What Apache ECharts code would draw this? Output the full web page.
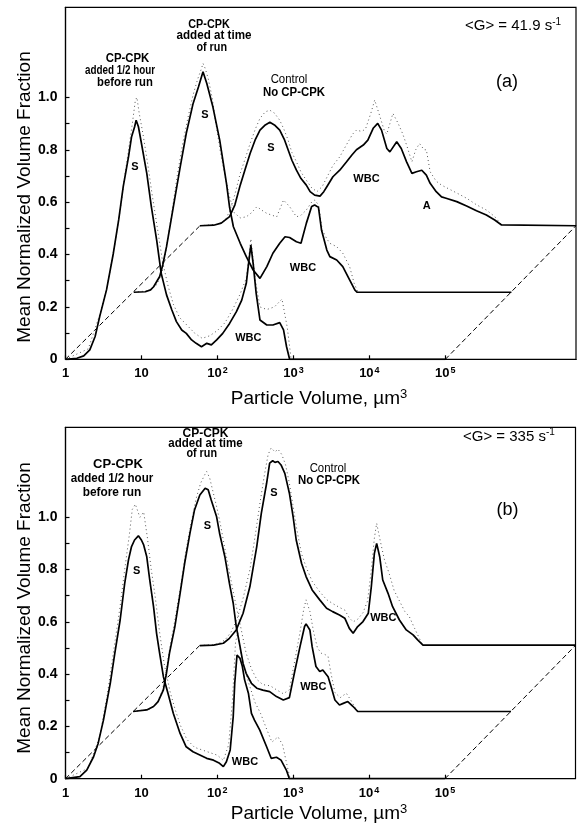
<!DOCTYPE html>
<html><head><meta charset="utf-8">
<script src="https://cdn.jsdelivr.net/npm/echarts@6/dist/echarts.min.js"></script>
<style>html,body{margin:0;padding:0;background:#fff}#c{width:579px;height:831px}</style>
</head><body><div id="c"></div>
<script>
// x values: log10(particle volume, µm³) as displayed; y: mean normalized volume fraction
const xTickExps = [0, 1, 2, 3, 4, 5];
const yTickVals = [0, 0.1, 0.2, 0.3, 0.4, 0.5, 0.6, 0.7, 0.8, 0.9, 1.0];
const yLabelVals = [0, 0.2, 0.4, 0.6, 0.8, 1.0];

// ---- Panel (a) <G> = 41.9 s-1 ----
const a1Solid = [[0,0],[0.15,0.004],[0.24,0.013],[0.32,0.036],[0.39,0.087],[0.45,0.163],[0.54,0.265],[0.63,0.405],[0.70,0.532],[0.76,0.659],[0.83,0.774],[0.87,0.85],[0.91,0.888],[0.93,0.913],[0.96,0.888],[1.00,0.824],[1.07,0.71],[1.13,0.583],[1.20,0.455],[1.26,0.328],[1.33,0.246],[1.40,0.188],[1.46,0.144],[1.53,0.112],[1.59,0.099],[1.66,0.074],[1.72,0.061],[1.79,0.048],[1.86,0.061],[1.92,0.055],[1.99,0.074],[2.07,0.099],[2.16,0.137],[2.25,0.182],[2.32,0.226],[2.38,0.29],[2.41,0.366],[2.44,0.436],[2.47,0.366],[2.51,0.252],[2.56,0.15],[2.65,0.131],[2.73,0.131],[2.82,0.14],[2.87,0.112],[2.91,0.048],[2.95,0],[5.0,0]];
const a1Dot = [[0,0],[0.3,0.04],[0.45,0.17],[0.55,0.28],[0.65,0.44],[0.72,0.57],[0.78,0.70],[0.84,0.82],[0.88,0.90],[0.92,0.99],[0.94,1.0],[0.97,0.94],[1.02,0.86],[1.08,0.75],[1.14,0.63],[1.21,0.50],[1.28,0.37],[1.35,0.28],[1.42,0.21],[1.5,0.16],[1.6,0.13],[1.7,0.10],[1.8,0.08],[1.9,0.09],[2.0,0.11],[2.1,0.14],[2.2,0.19],[2.3,0.25],[2.38,0.31],[2.44,0.46],[2.5,0.30],[2.56,0.20],[2.65,0.19],[2.75,0.2],[2.85,0.23],[2.92,0.12],[2.97,0]];
const a2Solid = [[0.90,0.256],[1.05,0.258],[1.12,0.265],[1.16,0.277],[1.24,0.316],[1.28,0.36],[1.33,0.43],[1.42,0.583],[1.51,0.735],[1.59,0.863],[1.68,0.977],[1.75,1.04],[1.81,1.098],[1.86,1.053],[1.94,0.964],[2.03,0.837],[2.12,0.67],[2.16,0.58],[2.21,0.506],[2.30,0.443],[2.38,0.392],[2.47,0.341],[2.56,0.309],[2.65,0.354],[2.73,0.405],[2.82,0.443],[2.89,0.468],[2.95,0.465],[3.04,0.449],[3.10,0.443],[3.17,0.519],[3.24,0.583],[3.28,0.589],[3.33,0.58],[3.37,0.494],[3.44,0.417],[3.48,0.392],[3.57,0.379],[3.65,0.354],[3.74,0.303],[3.81,0.264],[3.84,0.256],[5.87,0.256]];
const a2Dot = [[0.90,0.256],[1.1,0.262],[1.2,0.285],[1.27,0.33],[1.33,0.43],[1.40,0.56],[1.47,0.70],[1.54,0.82],[1.61,0.92],[1.68,1.01],[1.74,1.07],[1.79,1.11],[1.81,1.13],[1.84,1.11],[1.88,1.07],[1.93,1.0],[1.98,0.9],[2.04,0.79],[2.1,0.70],[2.16,0.62],[2.22,0.56],[2.3,0.54],[2.38,0.544],[2.45,0.56],[2.52,0.583],[2.58,0.57],[2.65,0.557],[2.72,0.55],[2.78,0.544],[2.87,0.608],[2.95,0.583],[3.04,0.544],[3.10,0.55],[3.17,0.57],[3.24,0.60],[3.28,0.608],[3.33,0.59],[3.38,0.494],[3.44,0.46],[3.48,0.443],[3.57,0.43],[3.65,0.405],[3.74,0.354],[3.80,0.29],[3.85,0.256]];
const a3Solid = [[1.77,0.51],[1.95,0.512],[2.05,0.52],[2.16,0.545],[2.23,0.59],[2.30,0.665],[2.37,0.73],[2.43,0.786],[2.50,0.84],[2.56,0.875],[2.63,0.895],[2.69,0.905],[2.75,0.895],[2.82,0.875],[2.88,0.84],[2.93,0.80],[2.98,0.76],[3.04,0.722],[3.10,0.69],[3.17,0.665],[3.22,0.64],[3.28,0.627],[3.35,0.623],[3.40,0.64],[3.44,0.659],[3.52,0.697],[3.61,0.722],[3.70,0.754],[3.77,0.78],[3.83,0.80],[3.92,0.818],[3.98,0.837],[4.05,0.882],[4.11,0.901],[4.16,0.875],[4.23,0.805],[4.27,0.792],[4.36,0.831],[4.42,0.805],[4.49,0.754],[4.56,0.71],[4.62,0.716],[4.69,0.722],[4.75,0.703],[4.77,0.70],[4.80,0.672],[4.88,0.64],[4.95,0.62],[5.01,0.615],[5.15,0.602],[5.28,0.585],[5.41,0.567],[5.54,0.551],[5.65,0.532],[5.74,0.513],[6.72,0.51]];
const a3Dot = [[1.77,0.51],[2.0,0.515],[2.1,0.53],[2.16,0.565],[2.23,0.63],[2.30,0.71],[2.37,0.77],[2.43,0.824],[2.50,0.88],[2.56,0.92],[2.63,0.945],[2.69,0.951],[2.75,0.94],[2.82,0.913],[2.88,0.875],[2.93,0.837],[2.98,0.79],[3.04,0.754],[3.10,0.715],[3.17,0.684],[3.24,0.655],[3.31,0.64],[3.38,0.66],[3.45,0.70],[3.52,0.74],[3.61,0.773],[3.70,0.82],[3.78,0.86],[3.83,0.875],[3.90,0.87],[3.95,0.88],[4.02,0.94],[4.07,0.99],[4.14,0.926],[4.20,0.87],[4.23,0.86],[4.27,0.90],[4.31,0.939],[4.38,0.90],[4.44,0.86],[4.49,0.818],[4.56,0.754],[4.61,0.80],[4.66,0.824],[4.72,0.80],[4.75,0.80],[4.80,0.716],[4.88,0.68],[4.95,0.665],[5.05,0.65],[5.15,0.635],[5.28,0.615],[5.41,0.59],[5.54,0.57],[5.65,0.545],[5.74,0.513]];

// ---- Panel (b) <G> = 335 s-1 ----
const b1Solid = [[0,0],[0.19,0.008],[0.28,0.033],[0.37,0.084],[0.43,0.135],[0.50,0.224],[0.59,0.365],[0.65,0.48],[0.72,0.607],[0.78,0.747],[0.83,0.837],[0.87,0.888],[0.91,0.913],[0.96,0.929],[1.00,0.913],[1.03,0.894],[1.07,0.85],[1.11,0.76],[1.16,0.658],[1.20,0.556],[1.24,0.48],[1.29,0.39],[1.35,0.327],[1.42,0.25],[1.51,0.173],[1.59,0.122],[1.68,0.103],[1.77,0.091],[1.86,0.078],[1.95,0.071],[2.03,0.059],[2.08,0.046],[2.12,0.065],[2.17,0.11],[2.21,0.237],[2.23,0.365],[2.26,0.473],[2.30,0.46],[2.33,0.43],[2.36,0.378],[2.41,0.327],[2.45,0.25],[2.49,0.224],[2.56,0.186],[2.65,0.122],[2.71,0.078],[2.78,0.082],[2.84,0.071],[2.91,0.033],[2.95,0],[5.0,0]];
const b1Dot = [[0,0],[0.3,0.04],[0.45,0.16],[0.55,0.32],[0.65,0.52],[0.72,0.66],[0.78,0.80],[0.84,0.93],[0.88,1.03],[0.92,1.05],[0.98,1.0],[1.03,1.02],[1.08,0.92],[1.13,0.80],[1.18,0.70],[1.24,0.56],[1.3,0.44],[1.38,0.33],[1.45,0.26],[1.52,0.2],[1.6,0.15],[1.7,0.12],[1.8,0.11],[1.9,0.10],[2.0,0.09],[2.08,0.07],[2.15,0.13],[2.2,0.30],[2.24,0.52],[2.27,0.56],[2.31,0.48],[2.36,0.42],[2.42,0.36],[2.5,0.29],[2.57,0.25],[2.65,0.19],[2.72,0.14],[2.8,0.16],[2.86,0.13],[2.92,0.05],[2.96,0]];
const b2Solid = [[0.89,0.257],[1.07,0.263],[1.16,0.276],[1.22,0.295],[1.29,0.34],[1.33,0.403],[1.37,0.48],[1.44,0.58],[1.51,0.709],[1.57,0.824],[1.64,0.939],[1.70,1.028],[1.77,1.085],[1.84,1.111],[1.88,1.105],[1.92,1.066],[1.99,1.003],[2.03,0.939],[2.10,0.849],[2.16,0.747],[2.21,0.671],[2.25,0.582],[2.30,0.505],[2.34,0.441],[2.38,0.403],[2.45,0.365],[2.52,0.346],[2.60,0.339],[2.69,0.333],[2.78,0.314],[2.87,0.301],[2.95,0.31],[3.02,0.41],[3.09,0.505],[3.15,0.582],[3.17,0.592],[3.22,0.569],[3.25,0.505],[3.30,0.429],[3.35,0.41],[3.39,0.416],[3.46,0.39],[3.50,0.352],[3.55,0.301],[3.61,0.282],[3.66,0.288],[3.72,0.295],[3.79,0.276],[3.85,0.257],[5.87,0.257]];
const b2Dot = [[0.89,0.257],[1.1,0.265],[1.2,0.285],[1.28,0.34],[1.33,0.42],[1.38,0.51],[1.45,0.62],[1.52,0.74],[1.58,0.86],[1.65,0.97],[1.72,1.07],[1.78,1.13],[1.83,1.16],[1.86,1.175],[1.9,1.15],[1.95,1.09],[2.0,1.03],[2.05,0.96],[2.1,0.88],[2.16,0.79],[2.22,0.70],[2.28,0.62],[2.33,0.55],[2.38,0.48],[2.45,0.42],[2.52,0.38],[2.6,0.36],[2.7,0.355],[2.78,0.34],[2.87,0.325],[2.95,0.34],[3.02,0.45],[3.09,0.56],[3.14,0.65],[3.17,0.684],[3.22,0.64],[3.27,0.56],[3.32,0.5],[3.37,0.48],[3.42,0.475],[3.46,0.467],[3.5,0.40],[3.55,0.33],[3.62,0.31],[3.70,0.327],[3.76,0.30],[3.82,0.27],[3.86,0.257]];
const b3Solid = [[1.77,0.509],[1.95,0.511],[2.08,0.518],[2.16,0.537],[2.25,0.569],[2.34,0.633],[2.43,0.735],[2.52,0.888],[2.58,1.015],[2.65,1.13],[2.69,1.207],[2.73,1.216],[2.76,1.21],[2.80,1.213],[2.84,1.2],[2.89,1.168],[2.93,1.117],[2.95,1.092],[3.0,1.0],[3.04,0.913],[3.11,0.824],[3.17,0.773],[3.25,0.722],[3.35,0.684],[3.44,0.652],[3.52,0.639],[3.61,0.626],[3.68,0.614],[3.74,0.575],[3.79,0.556],[3.85,0.582],[3.92,0.601],[3.99,0.633],[4.03,0.735],[4.07,0.862],[4.10,0.9],[4.14,0.849],[4.18,0.76],[4.25,0.709],[4.31,0.658],[4.40,0.607],[4.49,0.569],[4.58,0.55],[4.64,0.531],[4.71,0.511],[6.72,0.511]];
const b3Dot = [[1.77,0.509],[2.0,0.515],[2.1,0.53],[2.18,0.56],[2.26,0.61],[2.34,0.69],[2.43,0.80],[2.5,0.93],[2.56,1.05],[2.62,1.16],[2.67,1.24],[2.71,1.265],[2.76,1.25],[2.80,1.26],[2.85,1.24],[2.9,1.2],[2.95,1.13],[3.0,1.04],[3.05,0.95],[3.11,0.86],[3.17,0.81],[3.25,0.755],[3.35,0.715],[3.44,0.685],[3.52,0.67],[3.61,0.655],[3.68,0.645],[3.74,0.615],[3.79,0.60],[3.85,0.61],[3.92,0.635],[3.98,0.68],[4.03,0.80],[4.07,0.92],[4.10,0.977],[4.14,0.92],[4.2,0.84],[4.27,0.78],[4.33,0.72],[4.40,0.68],[4.47,0.64],[4.53,0.62],[4.6,0.575],[4.69,0.52],[4.72,0.511]];

// cascade offset guide lines (same in both panels)
const guideLow = [[0,0],[1.77,0.51]];
const guideHigh = [[5.0,0],[6.72,0.51]];

const FONT = "'Liberation Sans', Arial, Helvetica, sans-serif";

const chart = echarts.init(document.getElementById('c'), null, {renderer: 'canvas'});

const grids = [
  {left: 65.5, top: 7.3, width: 510.5, height: 352},
  {left: 65.5, top: 427.3, width: 510, height: 351.4}
];

function xAxisFor(i) {
  return {
    type: 'value', gridIndex: i, min: 0, max: 6.72,
    axisLine: {show: true, lineStyle: {color: '#000', width: 1.2}},
    axisTick: {show: true, inside: true, length: 4, customValues: xTickExps, lineStyle: {color: '#000', width: 1.2}},
    axisLabel: {
      customValues: xTickExps, margin: 7, color: '#000',
      formatter: v => v === 0 ? '{b|1}' : (v === 1 ? '{b|10}' : '{b|10}{s|' + v + '}'),
      rich: {
        b: {fontSize: 13, fontWeight: 'bold', fontFamily: FONT, color: '#000', lineHeight: 15},
        s: {fontSize: 9, fontWeight: 'bold', fontFamily: FONT, color: '#000', lineHeight: 15, verticalAlign: 'top', padding: [0, 0, 0, 1]}
      }
    },
    splitLine: {show: false}
  };
}
function yAxisFor(i) {
  return {
    type: 'value', gridIndex: i, min: 0, max: 1.344,
    axisLine: {show: true, lineStyle: {color: '#000', width: 1.2}},
    axisTick: {show: true, inside: true, length: 4, customValues: yTickVals, lineStyle: {color: '#000', width: 1.2}},
    axisLabel: {
      customValues: yLabelVals, margin: 8, color: '#000', fontSize: 14, fontWeight: 'bold', fontFamily: FONT,
      formatter: v => v === 0 ? '0' : v.toFixed(1)
    },
    splitLine: {show: false}
  };
}

function solid(data, gi) {
  return {type: 'line', xAxisIndex: gi, yAxisIndex: gi, data: data, showSymbol: false, symbol: 'none', silent: true,
    lineStyle: {color: '#000', width: 1.7}, z: 3};
}
function dotted(data, gi) {
  return {type: 'line', xAxisIndex: gi, yAxisIndex: gi, data: data, showSymbol: false, symbol: 'none', silent: true,
    lineStyle: {color: '#555', width: 1, type: [1, 3]}, z: 2};
}
function dashed(data, gi) {
  return {type: 'line', xAxisIndex: gi, yAxisIndex: gi, data: data, showSymbol: false, symbol: 'none', silent: true,
    lineStyle: {color: '#000', width: 1, type: [5, 3]}, z: 2};
}

function txt(text, x, y, size, opts) {
  opts = opts || {};
  return {
    type: 'text', x: x, y: y, rotation: opts.rotation || 0, scaleX: opts.sx || 1, z: 10,
    style: {
      text: text, fill: '#000', fontSize: size, fontWeight: opts.weight || 'bold',
      fontFamily: FONT, textAlign: opts.align || 'center', textVerticalAlign: 'middle',
      lineHeight: opts.lh || size, rich: opts.rich
    }
  };
}
const supRich = {
  n: {fontSize: 15, fontFamily: FONT, fill: '#000', color: '#000', lineHeight: 18},
  s: {fontSize: 10, fontFamily: FONT, fill: '#000', color: '#000', lineHeight: 18, verticalAlign: 'top'}
};
const titleRich = {
  n: {fontSize: 19, fontFamily: FONT, lineHeight: 22},
  s: {fontSize: 13, fontFamily: FONT, lineHeight: 22, verticalAlign: 'top'}
};

const graphics = [
  // axis titles
  txt('Mean Normalized Volume Fraction', 25, 197, 19, {weight: 'normal', rotation: Math.PI / 2}),
  txt('Mean Normalized Volume Fraction', 25, 608, 19, {weight: 'normal', rotation: Math.PI / 2}),
  txt('{n|Particle Volume, µm}{s|3}', 319, 399, 19, {weight: 'normal', rich: titleRich}),
  txt('{n|Particle Volume, µm}{s|3}', 319, 814, 19, {weight: 'normal', rich: titleRich}),
  // panel a
  txt('CP-CPK', 127.5, 59, 12, {sx: 0.95}),
  txt('added 1/2 hour', 120, 71, 12, {sx: 0.82}),
  txt('before run', 125, 82.5, 12, {sx: 0.94}),
  txt('CP-CPK', 209, 25, 12, {sx: 0.9}),
  txt('added at time', 214, 36, 12, {sx: 0.97}),
  txt('of run', 211.7, 47.5, 12, {sx: 0.9}),
  txt('Control', 289, 80, 12, {weight: 'normal', sx: 0.95}),
  txt('No CP-CPK', 294, 93, 12, {sx: 0.95}),
  txt('S', 135, 166.7, 11), txt('S', 205, 115, 11), txt('S', 271, 147.5, 11),
  txt('WBC', 248.3, 338.3, 11), txt('WBC', 303, 268, 11), txt('WBC', 366.5, 179, 11),
  txt('A', 426.7, 205.5, 11),
  txt('{n|<G> = 41.9 s}{s|-1}', 465, 26, 15, {weight: 'normal', align: 'left', rich: supRich}),
  txt('(a)', 507, 81.7, 18, {weight: 'normal'}),
  // panel b
  txt('CP-CPK', 118, 464, 13, {sx: 1.0}),
  txt('added 1/2 hour', 112, 478.5, 13.5, {sx: 0.86}),
  txt('before run', 112, 492, 13.5, {sx: 0.88}),
  txt('CP-CPK', 205.5, 433.5, 12, {sx: 1.0}),
  txt('added at time', 205.5, 443.5, 12, {sx: 0.96}),
  txt('of run', 201.7, 454, 12, {sx: 0.9}),
  txt('Control', 328, 468.5, 12, {weight: 'normal', sx: 0.95}),
  txt('No CP-CPK', 329, 481, 12, {sx: 0.95}),
  txt('S', 136.7, 570.7, 11), txt('S', 207.3, 526, 11), txt('S', 274, 492.7, 11),
  txt('WBC', 245, 761.7, 11), txt('WBC', 313.3, 687.3, 11), txt('WBC', 383.3, 618.3, 11),
  txt('{n|<G> = 335 s}{s|-1}', 463, 436.5, 15, {weight: 'normal', align: 'left', rich: supRich}),
  txt('(b)', 507.5, 510, 18, {weight: 'normal'})
];

const option = {
  animation: false,
  backgroundColor: '#fff',
  grid: grids.map(g => Object.assign({show: true, borderColor: '#000', borderWidth: 1.2, backgroundColor: 'transparent', containLabel: false}, g)),
  xAxis: [xAxisFor(0), xAxisFor(1)],
  yAxis: [yAxisFor(0), yAxisFor(1)],
  series: [
    dashed(guideLow, 0), dashed(guideHigh, 0),
    dotted(a1Dot, 0), dotted(a2Dot, 0), dotted(a3Dot, 0),
    solid(a1Solid, 0), solid(a2Solid, 0), solid(a3Solid, 0),
    dashed(guideLow, 1), dashed(guideHigh, 1),
    dotted(b1Dot, 1), dotted(b2Dot, 1), dotted(b3Dot, 1),
    solid(b1Solid, 1), solid(b2Solid, 1), solid(b3Solid, 1)
  ],
  graphic: graphics
};
chart.setOption(option);
</script>
</body></html>
